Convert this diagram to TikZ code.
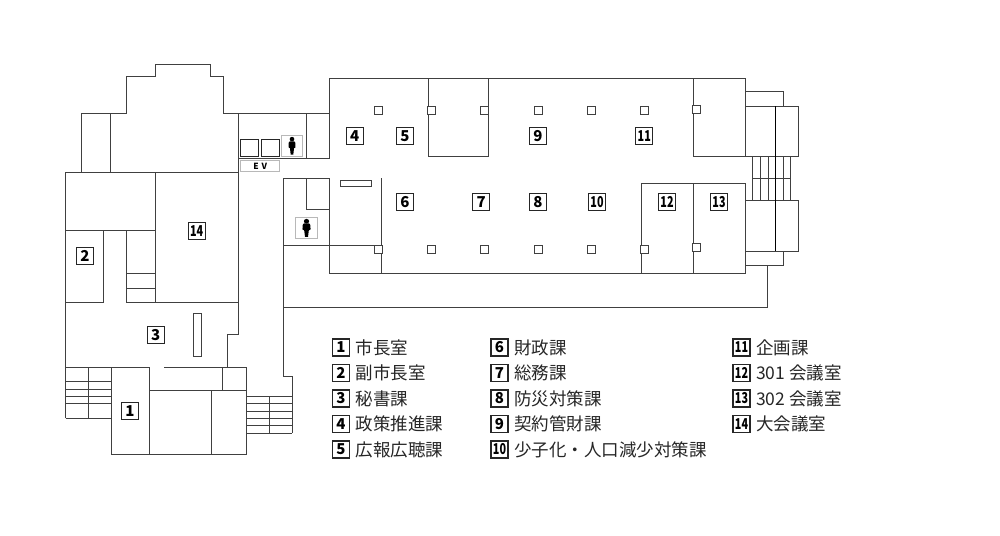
\documentclass[tikz,border=0pt]{standalone}
\usepackage{fontspec}
\usepackage{graphicx}
\setmainfont{Noto Sans CJK JP}
\usetikzlibrary{positioning}
\definecolor{wallcol}{gray}{0.25}
\definecolor{framecol}{gray}{0.72}
\tikzset{
  wall/.style={draw=wallcol,line width=1pt},
  pillar/.style={draw=wallcol,fill=white,line width=1pt,minimum size=8pt,inner sep=0pt},
  numbox/.style={draw=black!85,line width=1.1pt,fill=white,minimum size=17pt,inner sep=0pt,
    font=\fontsize{15}{15}\selectfont\bfseries},
  itemlab/.style={right=5.5pt of #1,inner sep=0pt,font=\fontsize{17.5}{18}\selectfont,text=black!85},
  iconbox/.style={draw=framecol,fill=white,line width=1pt},
  manicon/.pic={
    \fill[black] (0,-6.6) circle (2.3);
    \fill[black] (-2.2,-4.4) -- (2.2,-4.4) -- (3.4,-2.8) -- (3.5,1.6) -- (2,2.6) -- (1.3,9) -- (-1.3,9) -- (-2,2.6) -- (-3.5,1.6) -- (-3.4,-2.8) -- cycle;
  }
}
\newcommand{\twodig}[1]{\scalebox{.72}[1]{#1}}
\begin{document}
\begin{tikzpicture}[x=1pt,y=-1pt]
\useasboundingbox (0,0) rectangle (1000,535);
\color{black}

% left wing
\draw[wall] (81,172) -- (81,113) -- (126.7,113) -- (126.7,76.7) -- (155.7,76.7) -- (155.7,64) -- (210,64) -- (210,76.7) -- (223,76.7) -- (223,113) -- (238.3,113);
\draw[wall] (110.3,113) -- (110.3,172);
\draw[wall] (65.7,418.3) -- (65.7,172.3) -- (238.3,172.3);
\draw[wall] (238.3,113) -- (238.3,334.3) -- (227.7,334.3) -- (227.7,367.3);
\draw[wall] (155.7,172.3) -- (155.7,302.7);
\draw[wall] (65.7,230.7) -- (155.7,230.7);
\draw[wall] (103.7,230.7) -- (103.7,302.7) -- (65.7,302.7);
\draw[wall] (126.3,230.7) -- (126.3,302.7) -- (238.3,302.7);
\draw[wall] (126.3,273.3) -- (155.7,273.3);
\draw[wall] (126.3,288) -- (155.7,288);
\draw[wall] (193,313.3) rectangle (201,356);

% bottom rooms
\draw[wall] (65.7,367.3) -- (149,367.3);
\draw[wall] (164.3,367.3) -- (246.3,367.3) -- (246.3,454.7) -- (111,454.7) -- (111,367.3);
\draw[wall] (149,367.3) -- (149,454.7);
\draw[wall] (149,390) -- (246.3,390);
\draw[wall] (211.7,390) -- (211.7,454.7);
\draw[wall] (222.3,367.3) -- (222.3,390);

% stairs on the left
\draw[wall] (88.3,367.3) -- (88.3,418.3);
\draw[wall] (65.7,381.7) -- (111,381.7);
\draw[wall] (65.7,389) -- (111,389);
\draw[wall] (65.7,396.3) -- (111,396.3);
\draw[wall] (65.7,403.7) -- (111,403.7);
\draw[wall] (65.7,418.3) -- (111,418.3);

% stairs at the bottom
\draw[wall] (246.3,396.3) -- (292.3,396.3);
\draw[wall] (246.3,403.7) -- (292.3,403.7);
\draw[wall] (246.3,411) -- (292.3,411);
\draw[wall] (246.3,418.3) -- (292.3,418.3);
\draw[wall] (246.3,425.7) -- (292.3,425.7);
\draw[wall] (246.3,433) -- (292.3,433);
\draw[wall] (269,396.3) -- (269,433);
\draw[wall] (283.3,178.3) -- (283.3,376) -- (292.3,376) -- (292.3,433);

% lift and core
\draw[wall] (238.3,113.3) -- (329.7,113.3);
\draw[wall] (238.3,158.3) -- (329.7,158.3);
\draw[wall] (306.7,113.3) -- (306.7,158.3);
\draw[wall,draw=black!85] (240.3,139) rectangle (258.7,156.7);
\draw[wall,draw=black!85] (261.3,139) rectangle (279.7,156.7);
\node[iconbox,minimum width=21pt,minimum height=21pt,inner sep=0pt] (manbox) at (292,145.7) {};
\pic at (manbox.center) {manicon};
\node[draw=framecol,fill=white,line width=1pt,minimum width=39.5pt,minimum height=10.5pt,inner sep=0pt,font=\fontsize{8.5}{8.5}\selectfont\bfseries] (evbox) at (260.2,166) {E\,\,V};

% main block
\draw[wall] (329.7,158.3) -- (329.7,78.3) -- (745,78.3);
\draw[wall] (428.3,78.3) -- (428.3,156) -- (488.7,156) -- (488.7,78.3);
\draw[wall] (693,78.3) -- (693,156) -- (745,156) -- (745,78.3);
\draw[wall] (283.3,178.3) -- (329.7,178.3) -- (329.7,273.3) -- (745,273.3) -- (745,183.3) -- (641,183.3) -- (641,273.3);
\draw[wall] (693,183.3) -- (693,273.3);
\draw[wall] (381.7,178.3) -- (381.7,273.3);
\draw[wall] (306.7,178.3) -- (306.7,209.3) -- (329.7,209.3);
\draw[wall] (283.3,245.3) -- (381.7,245.3);
\draw[wall] (340.3,180.7) rectangle (371.3,186.7);
\node[iconbox,minimum width=21.5pt,minimum height=21.5pt,inner sep=0pt] (manboxb) at (306.5,227.8) {};
\pic[xscale=1.15] at (manboxb.center) {manicon};
\draw[wall] (283.3,307.3) -- (767.7,307.3) -- (767.7,265);

% stairs on the right
\draw[wall] (745,106.3) -- (745,91) -- (783,91) -- (783,106.3);
\draw[wall] (745,106.3) rectangle (798.3,156);
\draw[wall] (745,200.3) rectangle (798.3,251);
\draw[wall] (745,251) -- (745,265) -- (783.3,265) -- (783.3,251);
\draw[wall] (752.7,156) -- (752.7,200.3);
\draw[wall] (760,156) -- (760,200.3);
\draw[wall] (768,156) -- (768,200.3);
\draw[wall] (783,156) -- (783,200.3);
\draw[wall] (790.3,156) -- (790.3,200.3);
\draw[wall] (752.7,178) -- (790.3,178);
\draw[wall,draw=black] (775.3,106.3) -- (775.3,251);

% pillars
\node[pillar] (pa) at (378,110) {};
\node[pillar] (pb) at (431.3,110) {};
\node[pillar] (pc) at (484.7,110) {};
\node[pillar] (pd) at (538,110) {};
\node[pillar] (pe) at (591.3,110) {};
\node[pillar] (pf) at (644.7,110) {};
\node[pillar] (pg) at (696.7,109) {};
\node[pillar] (ph) at (378,249.3) {};
\node[pillar] (pi) at (431.3,249.3) {};
\node[pillar] (pj) at (484.7,249.3) {};
\node[pillar] (pk) at (538,249.3) {};
\node[pillar] (pl) at (591.3,249.3) {};
\node[pillar] (pm) at (644.7,249.3) {};
\node[pillar] (pn) at (696.7,247) {};

% numbers on the plan
\node[numbox] (rooma) at (130,410.7) {1};
\node[numbox] (roomb) at (85,256) {2};
\node[numbox] (roomc) at (155.7,335) {3};
\node[numbox] (roomd) at (354.7,136) {4};
\node[numbox] (roome) at (405,136) {5};
\node[numbox] (roomf) at (405,202) {6};
\node[numbox] (roomg) at (481.3,202) {7};
\node[numbox] (roomh) at (538,202) {8};
\node[numbox] (roomi) at (538,136) {9};
\node[numbox] (roomj) at (597,202) {\twodig{10}};
\node[numbox] (roomk) at (644.3,136) {\twodig{11}};
\node[numbox] (rooml) at (667,202) {\twodig{12}};
\node[numbox] (roomm) at (719,202) {\twodig{13}};
\node[numbox] (roomn) at (196.7,231) {\twodig{14}};

% legend
\node[numbox] (keya) at (341,347.5) {1};
\node[itemlab=keya] (texta) {市長室};
\node[numbox] (keyb) at (341,373) {2};
\node[itemlab=keyb] (textb) {副市長室};
\node[numbox] (keyc) at (341,398.5) {3};
\node[itemlab=keyc] (textc) {秘書課};
\node[numbox] (keyd) at (341,424) {4};
\node[itemlab=keyd] (textd) {政策推進課};
\node[numbox] (keye) at (341,449.5) {5};
\node[itemlab=keye] (texte) {広報広聴課};
\node[numbox] (keyf) at (499.5,347.5) {6};
\node[itemlab=keyf] (textf) {財政課};
\node[numbox] (keyg) at (499.5,373) {7};
\node[itemlab=keyg] (textg) {総務課};
\node[numbox] (keyh) at (499.5,398.5) {8};
\node[itemlab=keyh] (texth) {防災対策課};
\node[numbox] (keyi) at (499.5,424) {9};
\node[itemlab=keyi] (texti) {契約管財課};
\node[numbox] (keyj) at (499.5,449.5) {\twodig{10}};
\node[itemlab=keyj] (textj) {少子化・人口減少対策課};
\node[numbox] (keyk) at (741.5,347.5) {\twodig{11}};
\node[itemlab=keyk] (textk) {企画課};
\node[numbox] (keyl) at (741.5,373) {\twodig{12}};
\node[itemlab=keyl] (textl) {301 会議室};
\node[numbox] (keym) at (741.5,398.5) {\twodig{13}};
\node[itemlab=keym] (textm) {302 会議室};
\node[numbox] (keyn) at (741.5,424) {\twodig{14}};
\node[itemlab=keyn] (textn) {大会議室};
\end{tikzpicture}
\end{document}
